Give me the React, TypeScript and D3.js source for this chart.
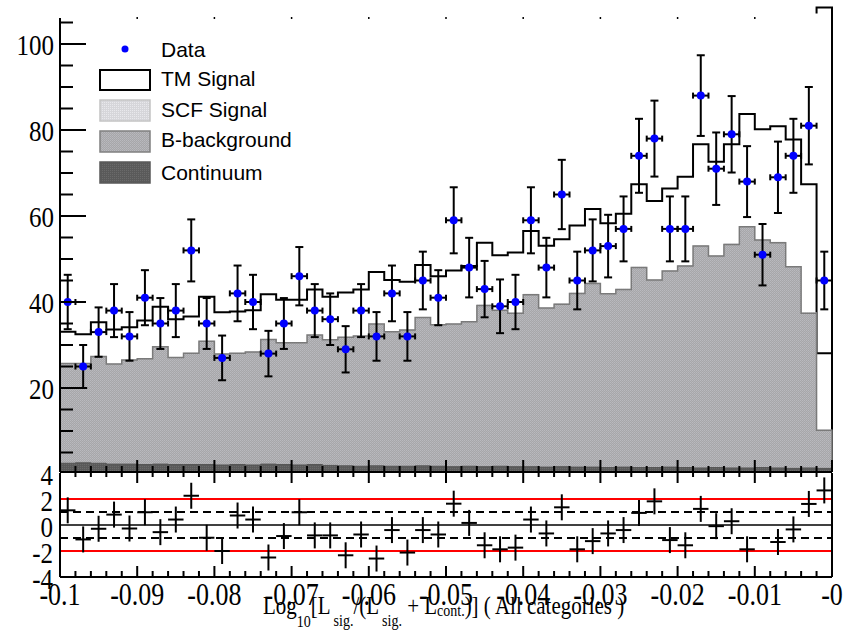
import React from "react";
import * as d3 from "d3";

// Histogram binning on the discriminant axis
const X_DOMAIN: [number, number] = [-0.1, 0];
const BIN_WIDTH = 0.002;

// Observed events per bin
const dataCounts = [
  40, 25, 33, 38, 32, 41, 35, 38, 52, 35,
  27, 42, 40, 28, 35, 46, 38, 36, 29, 38,
  32, 42, 32, 45, 41, 59, 48, 43, 39, 40,
  59, 48, 65, 45, 52, 53, 57, 74, 78, 57,
  57, 88, 71, 79, 68, 51, 69, 74, 81, 45,
];

// Fitted components (stacked bottom to top)
const continuum = [
  2.5, 2.6, 2.5, 2.3, 2.3, 2.2, 2.3, 2.2, 2.2, 2.2,
  2.1, 2.2, 2.1, 2.3, 2.2, 2.1, 2.2, 2.0, 1.9, 1.8,
  1.9, 1.8, 1.8, 1.9, 1.8, 1.7, 1.8, 1.7, 1.8, 1.7,
  1.7, 1.6, 1.7, 1.6, 1.6, 1.5, 1.6, 1.5, 1.5, 1.6,
  1.5, 1.4, 1.5, 1.4, 1.4, 1.5, 1.4, 1.3, 1.4, 1.3,
];
const bBackground = [
  23.2, 23.1, 24.8, 23.3, 24.2, 24.6, 27.3, 24.9, 25.9, 28.7,
  25.8, 25.9, 26.3, 29.0, 28.3, 28.4, 30.1, 29.2, 29.9, 30.3,
  33.0, 31.3, 31.7, 34.5, 32.9, 33.2, 33.6, 37.5, 36.3, 35.7,
  40.0, 37.0, 37.8, 40.4, 42.7, 40.4, 41.3, 46.5, 43.6, 45.6,
  46.9, 51.6, 49.2, 52.0, 56.1, 52.9, 52.4, 46.9, 36.0, 8.9,
];
const scfSignal = [
  0.1, 0.1, 0.1, 0.1, 0.1, 0.1, 0.1, 0.1, 0.1, 0.1,
  0.1, 0.1, 0.1, 0.1, 0.1, 0.1, 0.1, 0.1, 0.1, 0.1,
  0.1, 0.1, 0.1, 0.1, 0.1, 0.1, 0.1, 0.2, 0.1, 0.1,
  0.2, 0.1, 0.2, 0.2, 0.2, 0.1, 0.2, 0.2, 0.2, 0.2,
  0.2, 0.2, 0.2, 0.2, 0.2, 0.2, 0.2, 0.2, 0.2, 0.1,
];
const tmSignal = [
  7.3, 6.7, 7.9, 7.9, 7.5, 8.8, 9.2, 8.8, 8.4, 10.2,
  9.6, 9.6, 9.6, 10.4, 9.9, 9.9, 10.5, 9.9, 10.3, 10.7,
  12.0, 11.9, 11.1, 12.1, 11.2, 12.3, 12.9, 14.4, 12.7, 14.0,
  14.6, 14.4, 14.9, 15.6, 17.1, 16.3, 17.4, 19.2, 18.2, 19.0,
  20.5, 23.5, 21.7, 23.1, 26.0, 25.6, 26.9, 29.4, 29.8, 17.8,
];
// Upper end of the TM outline at the last bin edge
const tmEdgeTop = 108.5;

// Pulls (data - fit) / error per bin
const pulls = [
  1.13, -1.11, -0.29, 0.8, -0.27, 0.98, -0.55, 0.42, 2.25, -0.98,
  -2.0, 0.73, 0.42, -2.5, -0.85, 0.98, -0.8, -0.8, -2.33, -0.73,
  -2.58, -0.39, -2.12, -0.39, -0.73, 1.64, 0.16, -1.56, -1.87, -1.74,
  0.42, -0.65, 1.36, -1.87, -1.24, -0.65, -0.39, 0.93, 1.82, -1.16,
  -1.56, 1.24, -0.09, 0.29, -1.87, -4.1, -1.31, -0.34, 1.62, 2.66,
];

const xTickValues = [-0.1, -0.09, -0.08, -0.07, -0.06, -0.05, -0.04, -0.03, -0.02, -0.01, 0];
const xTickLabels = ["-0.1", "-0.09", "-0.08", "-0.07", "-0.06", "-0.05", "-0.04", "-0.03", "-0.02", "-0.01", "-0"];
const yTickLabelsTop = [20, 40, 60, 80, 100];
const yTickLabelsPull = [4, 2, 0, -2, -4];
const legendLabels = ["Data", "TM Signal", "SCF Signal", "B-background", "Continuum"];

const W = 854;
const H = 631;
const LEFT = 60;
const RIGHT = 832;
const TOP_Y0 = 474;
const TOP_FRAME_TOP = 18;
const TOP_FRAME_BOTTOM = 472;
const PULL_TOP = 473;
const PULL_BOTTOM = 577;

const SERIF = "'Liberation Serif', 'Times New Roman', serif";
const SANS = "'Liberation Sans', Arial, sans-serif";

function Label({ x, y, anchor, size, children }: any) {
  return (
    <text
      transform={`translate(${x},${y}) scale(1,1.2)`}
      textAnchor={anchor}
      fontFamily={SERIF}
      fontSize={size}
      fill="#000"
    >
      {children}
    </text>
  );
}

export default function App() {
  const x = d3.scaleLinear().domain(X_DOMAIN).range([LEFT, RIGHT]);
  const y = d3.scaleLinear().domain([0, 106]).range([TOP_Y0, TOP_Y0 - 106 * 4.3]);
  const yp = d3.scaleLinear().domain([-4, 4]).range([PULL_BOTTOM, PULL_TOP]);

  const nBins = dataCounts.length;
  const lo = (i: number) => X_DOMAIN[0] + i * BIN_WIDTH;
  const hi = (i: number) => X_DOMAIN[0] + (i + 1) * BIN_WIDTH;
  const mid = (i: number) => X_DOMAIN[0] + (i + 0.5) * BIN_WIDTH;

  const rows = dataCounts.map((_, i) => ({
    continuum: continuum[i],
    bBackground: bBackground[i],
    scf: scfSignal[i],
    tm: tmSignal[i],
  }));
  const keys = ["continuum", "bBackground", "scf", "tm"];
  const stacked = d3.stack<any>().keys(keys)(rows);
  const cumTop = (k: string) => stacked[keys.indexOf(k)].map((d) => d[1]);

  const stepPath = (vals: number[]) => {
    const pts: [number, number][] = [[x(lo(0)), y(0)]];
    vals.forEach((v, i) => {
      pts.push([x(lo(i)), y(v)]);
      pts.push([x(hi(i)), y(v)]);
    });
    pts.push([x(hi(nBins - 1)), y(0)]);
    return d3.line()(pts) + "Z";
  };

  const majorTicks = x.ticks(10);
  const minorTicks = x.ticks(50);
  const yMinor = d3.range(5, 106, 5);

  const legendBaselines = [57, 86, 117, 147, 180];

  return (
    <svg width={W} height={H} style={{ display: "block", position: "absolute", left: 0, top: 0 }}>
      <defs>
        <pattern id="patB" width={2} height={2} patternUnits="userSpaceOnUse">
          <rect width={2} height={2} fill="#a6a6aa" />
          <rect width={1} height={1} fill="#bababe" />
          <rect x={1} y={1} width={1} height={1} fill="#b4b4b6" />
        </pattern>
        <pattern id="patC" width={2} height={2} patternUnits="userSpaceOnUse">
          <rect width={2} height={2} fill="#5a5a5a" />
          <rect width={1} height={1} fill="#6a6a6a" />
        </pattern>
        <pattern id="patS" width={2} height={2} patternUnits="userSpaceOnUse">
          <rect width={2} height={2} fill="#d6d6da" />
          <rect width={1} height={1} fill="#e8e8ec" />
        </pattern>
        <clipPath id="clipTop">
          <rect x={LEFT} y={0} width={RIGHT - LEFT + 2} height={TOP_FRAME_BOTTOM} />
        </clipPath>
        <clipPath id="clipPull">
          <rect x={LEFT} y={PULL_TOP} width={RIGHT - LEFT} height={PULL_BOTTOM - PULL_TOP} />
        </clipPath>
      </defs>
      <rect width={W} height={H} fill="#fff" />

      {/* stacked fit components */}
      <g clipPath="url(#clipTop)">
        <path d={stepPath(cumTop("tm"))} fill="#fff" stroke="#000" strokeWidth={2} />
        <path
          d={`M${x(lo(nBins - 1))},${y(tmEdgeTop) + 6}L${x(lo(nBins - 1))},${y(tmEdgeTop)}L${x(hi(nBins - 1))},${y(tmEdgeTop)}L${x(hi(nBins - 1))},${y(0)}`}
          fill="none"
          stroke="#000"
          strokeWidth={2}
        />
        <path d={stepPath(cumTop("scf"))} fill="url(#patS)" stroke="none" />
        <path d={stepPath(cumTop("bBackground"))} fill="url(#patB)" stroke="#7a7a7a" strokeWidth={1.5} />
        <path d={stepPath(cumTop("continuum"))} fill="url(#patC)" stroke="#555" strokeWidth={1} />

        {/* data with Poisson errors */}
        {dataCounts.map((n, i) => {
          const e = Math.sqrt(n);
          const cx = x(mid(i));
          const cy = y(n);
          const yUp = y(n + e);
          const yDn = y(n - e);
          return (
            <g key={i} stroke="#000" strokeWidth={2}>
              <line x1={cx} x2={cx} y1={yUp} y2={yDn} />
              <line x1={cx - 4} x2={cx + 4} y1={yUp} y2={yUp} />
              <line x1={cx - 4} x2={cx + 4} y1={yDn} y2={yDn} />
              <line x1={x(lo(i))} x2={x(hi(i))} y1={cy} y2={cy} />
              <line x1={x(lo(i))} x2={x(lo(i))} y1={cy - 3} y2={cy + 3} />
              <line x1={x(hi(i))} x2={x(hi(i))} y1={cy - 3} y2={cy + 3} />
              <circle cx={cx} cy={cy} r={4} fill="#0000ff" stroke="none" />
            </g>
          );
        })}
      </g>

      {/* top panel axes */}
      <g stroke="#000" strokeWidth={2}>
        <line x1={LEFT} x2={LEFT} y1={TOP_FRAME_TOP} y2={TOP_FRAME_BOTTOM} />
        <line x1={LEFT} x2={RIGHT} y1={TOP_FRAME_BOTTOM} y2={TOP_FRAME_BOTTOM} />
        {yMinor.map((v) => (
          <line key={v} x1={LEFT} x2={LEFT + (v % 20 === 0 ? 26 : 13)} y1={y(v)} y2={y(v)} />
        ))}
        {minorTicks.map((t, i) => {
          const major = majorTicks.some((m) => Math.abs(m - t) < 1e-9);
          return (
            <line key={i} x1={x(t)} x2={x(t)} y1={TOP_FRAME_BOTTOM} y2={TOP_FRAME_BOTTOM - (major ? 12 : 6)} />
          );
        })}
        {majorTicks.slice(1, -1).map((t, i) => (
          <line key={i} x1={x(t)} x2={x(t)} y1={TOP_FRAME_TOP - 1} y2={TOP_FRAME_TOP + 1} strokeWidth={1.5} />
        ))}
      </g>
      {yTickLabelsTop.map((v) => (
        <Label key={v} x={54} y={y(v) + 11} anchor="end" size={25}>
          {v}
        </Label>
      ))}

      {/* legend */}
      <g>
        <circle cx={125} cy={49} r={3.5} fill="#0000ff" />
        <rect x={100} y={70} width={50} height={20} fill="#fff" stroke="#000" strokeWidth={2} />
        <rect x={100} y={100} width={50} height={21} fill="url(#patS)" stroke="#c4c4c4" strokeWidth={1.5} />
        <rect x={100} y={131} width={50} height={21} fill="url(#patB)" stroke="#808080" strokeWidth={1.5} />
        <rect x={100} y={162} width={50} height={21} fill="url(#patC)" stroke="#585858" strokeWidth={1.5} />
        {legendLabels.map((t, i) => (
          <text key={t} x={161} y={legendBaselines[i]} fontFamily={SANS} fontSize={21} fill="#000">
            {t}
          </text>
        ))}
      </g>

      {/* pull panel */}
      <g clipPath="url(#clipPull)">
        <line x1={LEFT} x2={RIGHT} y1={yp(2)} y2={yp(2)} stroke="#ff0000" strokeWidth={2} />
        <line x1={LEFT} x2={RIGHT} y1={yp(-2)} y2={yp(-2)} stroke="#ff0000" strokeWidth={2} />
        <line x1={LEFT} x2={RIGHT} y1={yp(1)} y2={yp(1)} stroke="#000" strokeWidth={2} strokeDasharray="8,5" />
        <line x1={LEFT} x2={RIGHT} y1={yp(-1)} y2={yp(-1)} stroke="#000" strokeWidth={2} strokeDasharray="8,5" />
        <line x1={LEFT} x2={RIGHT} y1={yp(0)} y2={yp(0)} stroke="#000" strokeWidth={1.5} />
        {pulls.map((p, i) =>
          p < -4 || p > 4 ? null : (
            <g key={i} stroke="#000" strokeWidth={2}>
              <line x1={x(lo(i))} x2={x(hi(i))} y1={yp(p)} y2={yp(p)} />
              <line x1={x(mid(i))} x2={x(mid(i))} y1={yp(p - 1)} y2={yp(p + 1)} />
            </g>
          )
        )}
      </g>
      <g stroke="#000" strokeWidth={2}>
        <line x1={LEFT} x2={LEFT} y1={PULL_TOP} y2={PULL_BOTTOM} />
        <line x1={RIGHT} x2={RIGHT} y1={PULL_TOP} y2={PULL_BOTTOM} />
        <line x1={LEFT} x2={RIGHT} y1={PULL_BOTTOM} y2={PULL_BOTTOM} />
        {minorTicks.map((t, i) => {
          const major = majorTicks.some((m) => Math.abs(m - t) < 1e-9);
          return (
            <g key={i}>
              <line x1={x(t)} x2={x(t)} y1={PULL_TOP} y2={PULL_TOP + (major ? 10 : 4)} />
              <line x1={x(t)} x2={x(t)} y1={PULL_BOTTOM} y2={PULL_BOTTOM - (major ? 11 : 6)} />
            </g>
          );
        })}
      </g>
      {yTickLabelsPull.map((v) => (
        <Label key={v} x={53} y={yp(v) + 12} anchor="end" size={25}>
          {v}
        </Label>
      ))}
      {xTickValues.map((v, i) => (
        <Label key={i} x={x(v)} y={605} anchor="middle" size={26}>
          {xTickLabels[i]}
        </Label>
      ))}

      {/* axis title */}
      <text transform="translate(263,614) scale(1,1.15)" fontFamily={SERIF} fontSize={21} fill="#000">
        <tspan>Log</tspan>
        <tspan fontSize={14} dy={11}>10</tspan>
        <tspan dy={-11}>[L</tspan>
        <tspan fontSize={14} dy={10} dx={3}>sig.</tspan>
        <tspan dy={-10}>/(L</tspan>
        <tspan fontSize={14} dy={10} dx={3}>sig.</tspan>
        <tspan dy={-10}> + L</tspan>
        <tspan fontSize={14} dy={2}>cont.</tspan>
        <tspan dy={-2}>)] ( All categories )</tspan>
      </text>
    </svg>
  );
}
